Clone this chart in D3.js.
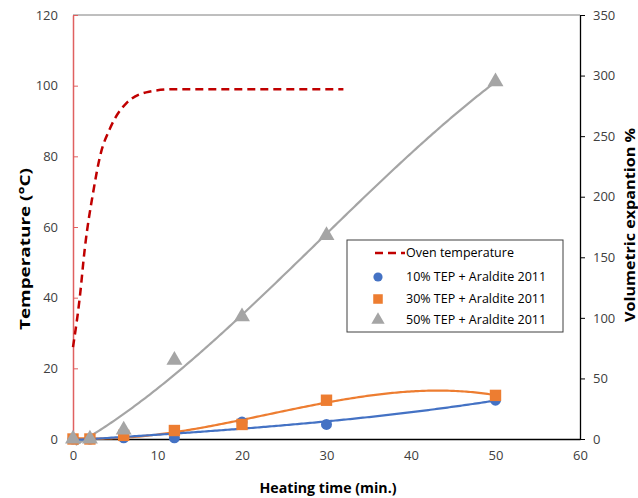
<!DOCTYPE html>
<html><head><meta charset="utf-8">
<script src="https://cdn.jsdelivr.net/npm/d3@7"></script>
<style>body{margin:0;background:#fff}svg{display:block;font-family:"Open Sans","Liberation Sans",sans-serif}</style>
</head><body><svg id="c" width="638" height="498"></svg>
<script>
const ovenTime = [0,0.8,1.4,2.4,3.2,4.4,6.3,9,12,20,32];
const ovenTemp = [26,40,54,70,80,88,95,98.3,99,99,99];
const heatTime = [0,2,6,12,20,30,50];
const tep10 = [0,0,1,1,14,12,32];
const tep30 = [0,0,3,7,12,32,36];
const tep50 = [0,0,7.5,65,101,168,295];
const xTicks = [0,10,20,30,40,50,60];
const leftTicks = [0,20,40,60,80,100,120];
const rightTicks = [0,50,100,150,200,250,300,350];
const seriesNames = ["Oven temperature","10% TEP + Araldite 2011","30% TEP + Araldite 2011","50% TEP + Araldite 2011"];

const svg = d3.select("#c");
const L=73,R=580,T=15,B=439;
const x = d3.scaleLinear().domain([0,60]).range([L,R]);
const yL = d3.scaleLinear().domain([0,120]).range([B,T]);
const yR = d3.scaleLinear().domain([0,350]).range([B,T]);

svg.append("line").attr("x1",L).attr("x2",R).attr("y1",T).attr("y2",T).attr("stroke","#7f7f7f").attr("stroke-width",1);

const gx = svg.append("g").attr("transform",`translate(0,${B})`).call(d3.axisBottom(x).tickValues(xTicks).tickSize(0).tickPadding(12));
gx.select(".domain").attr("stroke","#000").attr("stroke-width",1.3);
const gl = svg.append("g").attr("transform",`translate(${L},0)`).call(d3.axisLeft(yL).tickValues(leftTicks).tickSizeInner(-5).tickSizeOuter(0).tickPadding(15));
gl.select(".domain").attr("stroke","#e06060").attr("stroke-width",1.5);
gl.selectAll(".tick line").attr("stroke","#e06060");
const gr = svg.append("g").attr("transform",`translate(${R},0)`).call(d3.axisRight(yR).tickValues(rightTicks).tickSizeInner(5).tickSizeOuter(0).tickPadding(8));
gr.select(".domain").attr("stroke","#000").attr("stroke-width",1.3);
gr.selectAll(".tick line").attr("stroke","#000");
svg.selectAll(".tick text").attr("font-size",13).attr("fill","#404040").attr("font-family","'Open Sans','Liberation Sans',sans-serif");

function polyfit(xs, ys, deg){
  const n=deg+1; const A=[...Array(n)].map(()=>Array(n+1).fill(0));
  for(let i=0;i<xs.length;i++){
    for(let r=0;r<n;r++){
      for(let c=0;c<n;c++) A[r][c]+=Math.pow(xs[i],r+c);
      A[r][n]+=ys[i]*Math.pow(xs[i],r);
    }
  }
  for(let i=0;i<n;i++){
    let p=i; for(let k=i+1;k<n;k++) if(Math.abs(A[k][i])>Math.abs(A[p][i])) p=k;
    [A[i],A[p]]=[A[p],A[i]];
    for(let k=i+1;k<n;k++){const f=A[k][i]/A[i][i]; for(let c=i;c<=n;c++) A[k][c]-=f*A[i][c];}
  }
  const co=Array(n).fill(0);
  for(let i=n-1;i>=0;i--){let s=A[i][n]; for(let c=i+1;c<n;c++) s-=A[i][c]*co[c]; co[i]=s/A[i][i];}
  return t=>co.reduce((s,c,i)=>s+c*Math.pow(t,i),0);
}
const series=[
  {vals:tep10,color:"#4472c4",shape:d3.symbolCircle,size:95},
  {vals:tep30,color:"#ed7d31",shape:d3.symbolSquare,size:130},
  {vals:tep50,color:"#a5a5a5",shape:d3.symbolTriangle,size:110}
];
const line = d3.line().x(d=>x(d[0])).y(d=>yR(d[1]));
series.slice().reverse().forEach(s=>{
  const f = polyfit(heatTime,s.vals,3);
  const pts = d3.range(0.3,50.01,0.25).map(t=>[t,f(t)]);
  svg.append("path").datum(pts).attr("d",line).attr("fill","none").attr("stroke",s.color).attr("stroke-width",2.2);
});
series.forEach(s=>{
  svg.append("g").selectAll("path").data(heatTime.map((t,i)=>[t,s.vals[i]])).join("path")
    .attr("transform",d=>`translate(${x(d[0])},${yR(d[1])})`)
    .attr("d",d3.symbol().type(s.shape).size(s.size)).attr("fill",s.color);
});
svg.append("path").datum(ovenTime.map((t,i)=>[t,ovenTemp[i]]))
  .attr("d",d3.line().x(d=>x(d[0])).y(d=>yL(d[1])).curve(d3.curveMonotoneX))
  .attr("fill","none").attr("stroke","#c00000").attr("stroke-width",2.5).attr("stroke-dasharray","8,5");

const lg = svg.append("g");
lg.append("rect").attr("x",347).attr("y",240).attr("width",216).attr("height",92).attr("fill","#fff").attr("stroke","#404040").attr("stroke-width",1);
const ly=[253,277,299,320];
lg.append("line").attr("x1",375).attr("x2",405).attr("y1",ly[0]).attr("y2",ly[0]).attr("stroke","#c00000").attr("stroke-width",2.5).attr("stroke-dasharray","8,5");
series.forEach((s,i)=>{
  lg.append("path").attr("transform",`translate(378,${ly[i+1]})`).attr("d",d3.symbol().type(s.shape).size(s.size*0.7)).attr("fill",s.color);
});
seriesNames.forEach((n,i)=>{
  lg.append("text").attr("x",406).attr("y",ly[i]).attr("dy","0.35em").attr("font-size",12.5).attr("fill","#000").text(n);
});

svg.append("text").attr("x",328).attr("y",493).attr("text-anchor","middle").attr("font-size",14).attr("font-weight","bold")
  .attr("textLength",137).attr("lengthAdjust","spacingAndGlyphs").text("Heating time (min.)");
svg.append("text").attr("transform","translate(30,249) rotate(-90)").attr("text-anchor","middle").attr("font-size",14.5).attr("font-weight","bold")
  .attr("textLength",162).attr("lengthAdjust","spacingAndGlyphs").text("Temperature (°C)");
svg.append("text").attr("transform","translate(635,225) rotate(-90)").attr("text-anchor","middle").attr("font-size",14).attr("font-weight","bold")
  .attr("textLength",194).attr("lengthAdjust","spacingAndGlyphs").text("Volumetric expantion %");
</script></body></html>
